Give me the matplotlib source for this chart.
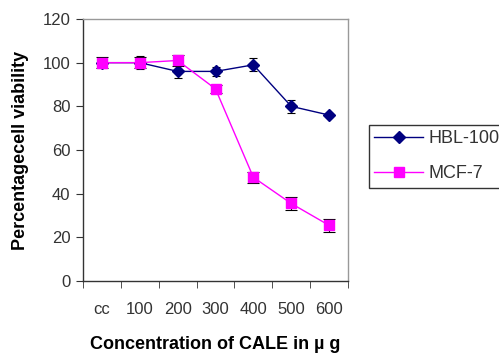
import matplotlib
matplotlib.use("Agg")
import matplotlib.pyplot as plt
from matplotlib.lines import Line2D
import numpy as np

categories = ["cc", "100", "200", "300", "400", "500", "600"]
hbl_values = [100, 100, 96, 96, 99, 80, 76]
hbl_err = [2, 3, 3, 2, 3, 3, 1]
mcf_values = [100, 100, 101, 88, 47.5, 35.5, 25.5]
mcf_err = [2.5, 2.5, 2.5, 2, 2.5, 3, 3]

plt.rcParams['font.family'] = ['Liberation Sans', 'DejaVu Sans']

fig = plt.figure(figsize=(4.99, 3.55), dpi=100)
ax = fig.add_axes([83/499, 1-281/355, (348-83)/499, (281-19)/355])

x = np.arange(len(categories))
ax.errorbar(x, hbl_values, yerr=hbl_err, color='#000080', marker='D', markersize=6.5,
            lw=1, ecolor='black', elinewidth=0.8, capsize=3, capthick=0.8, zorder=3)
ax.errorbar(x, mcf_values, yerr=mcf_err, color='#FF00FF', marker='s', markersize=7.5,
            lw=1, ecolor='black', elinewidth=0.8, capsize=4, capthick=0.8, zorder=4)

ax.set_xlim(-0.5, len(categories) - 0.5)
ax.set_ylim(0, 120)
ax.set_yticks(range(0, 121, 20))
ax.set_xticks(x)
ax.set_xticklabels(categories)
ax.set_xticks(np.arange(-0.5, len(categories), 1), minor=True)
ax.tick_params(axis='x', which='major', length=0, pad=15, labelsize=12, colors='#333333')
ax.tick_params(axis='x', which='minor', length=5, direction='out', color='#333333')
ax.tick_params(axis='y', length=5, direction='out', labelsize=12, pad=4, color='#333333', labelcolor='#333333')

for s in ['left', 'bottom']:
    ax.spines[s].set_color('#333333')
    ax.spines[s].set_linewidth(1)
for s in ['top', 'right']:
    ax.spines[s].set_color('#999999')
    ax.spines[s].set_linewidth(1)

ax.set_ylabel('Percentagecell viability', fontsize=13, fontweight='bold', labelpad=10)
ax.set_xlabel('Concentration of CALE in µ g', fontsize=13, fontweight='bold', labelpad=13.5)

handles = [Line2D([], [], color='#000080', marker='D', markersize=6, lw=1),
           Line2D([], [], color='#FF00FF', marker='s', markersize=6.5, lw=1)]
labels = ['HBL-100', 'MCF-7']
leg = fig.legend(handles, labels, loc='upper left', bbox_to_anchor=(369/499, 1-125/355),
                 frameon=True, fancybox=False, edgecolor='black', fontsize=13,
                 handlelength=2.7, handletextpad=0.3, borderaxespad=0, borderpad=0.3,
                 labelspacing=1.0)
leg.get_frame().set_linewidth(1)
for t in leg.get_texts():
    t.set_color('#333333')

fig.savefig('out.png', dpi=100)
